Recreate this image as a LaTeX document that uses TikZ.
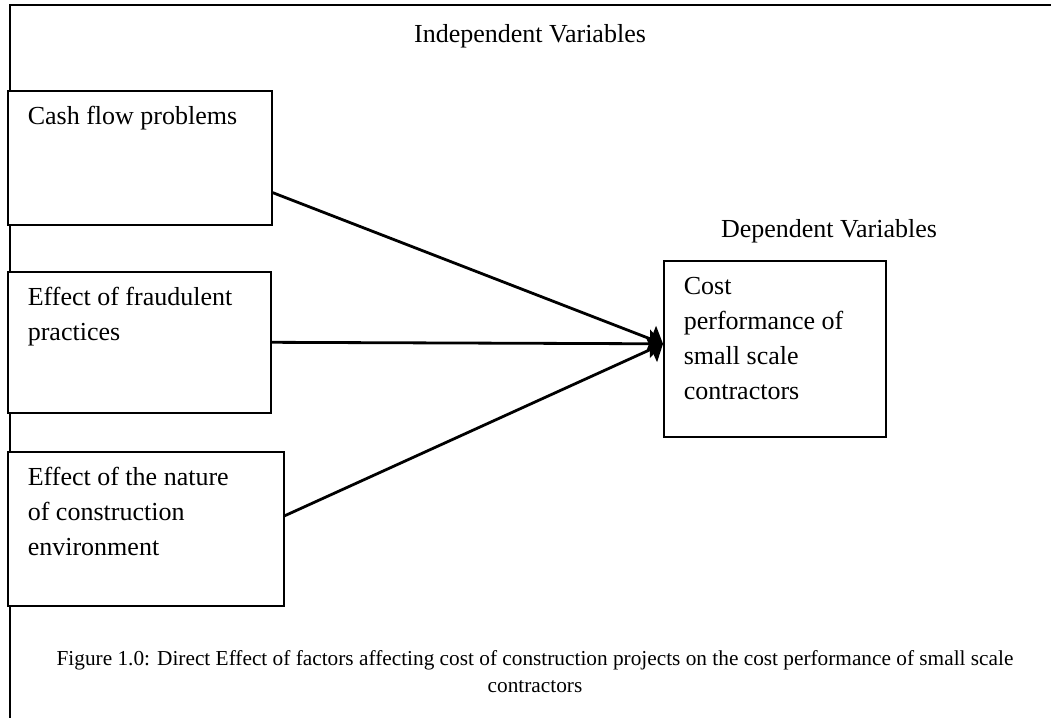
\documentclass[tikz,border=0pt]{standalone}
\usepackage{fontspec}
\setmainfont{Liberation Serif}
\usetikzlibrary{arrows.meta}
% text inside a box: top left, fixed size
\newcommand{\boxbody}[3]{\begin{minipage}[t][#2][t]{#1}\raggedright\setlength{\leftskip}{20pt}\vspace*{9.5pt}\strut #3\end{minipage}}
\begin{document}
\begin{tikzpicture}[x=1pt,y=-1pt,
		varbox/.style={draw, line width=1.6pt, fill=white, inner sep=0pt, anchor=north west},
		arr/.style={line width=2.8pt, -{Triangle[length=13pt,width=28pt]}},
		font=\fontsize{26}{35}\selectfont]
		\useasboundingbox (0,0) rectangle (1051,718);
		% frame
		\draw[line width=2.4pt] (1051,5) -- (10,5) -- (10,718);
		
		\node (indep) [anchor=base] at (530,42) {Independent Variables};
		\node (cash) [varbox] at (7,90) {\boxbody{264pt}{134pt}{Cash flow problems}};
		\node (fraud) [varbox] at (7,271) {\boxbody{263pt}{141pt}{Effect of fraudulent\\practices}};
		\node (nature) [varbox] at (7,451) {\boxbody{276pt}{154pt}{Effect of the nature\\of construction\\environment}};
		
		\node (dep) [anchor=base] at (829,237) {Dependent Variables};
		\node (cost) [varbox] at (663,260) {\boxbody{222pt}{176pt}{Cost\\performance of\\small scale\\contractors}};
		\coordinate (hit) at ([yshift=5pt]cost.west);
		
		\draw[arr] ([yshift=33pt]cash.south east) -- (hit);
		\draw[arr] (fraud.east) -- (hit);
		\draw[arr] ([yshift=13pt]nature.east) -- (hit);
		
		\node (caption) [anchor=north, align=center, inner sep=0pt, font=\fontsize{21.3}{27}\selectfont] at (535,650) {Figure 1.0: Direct Effect of factors affecting cost of construction projects on the cost performance of small scale\\contractors};
	\end{tikzpicture}
\end{document}
